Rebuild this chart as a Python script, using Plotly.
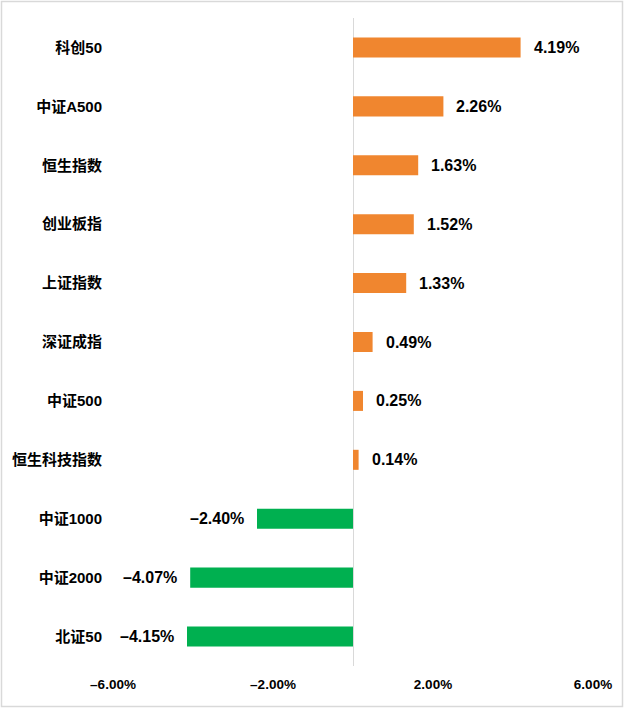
import plotly.graph_objects as go

# index names, top to bottom
names = ['科创50', '中证A500', '恒生指数', '创业板指', '上证指数', '深证成指',
         '中证500', '恒生科技指数', '中证1000', '中证2000', '北证50']
# weekly change, %
changes = [4.19, 2.26, 1.63, 1.52, 1.33, 0.49, 0.25, 0.14, -2.40, -4.07, -4.15]

x_ticks = [-6, -2, 2, 6]
x_tick_text = ['–6.00%', '–2.00%', '2.00%', '6.00%']

colors = ['#F0862F' if v >= 0 else '#00B050' for v in changes]
labels = [('%.2f%%' % v).replace('-', '–') for v in changes]

font = 'Liberation Sans, Arial, Noto Sans CJK SC, sans-serif'

fig = go.Figure(go.Bar(
    x=changes, y=names, orientation='h',
    marker=dict(color=colors, line=dict(width=0)),
    width=0.34,
))

# value labels beside the bars
for n, v, t in zip(names, changes, labels):
    fig.add_annotation(x=v, y=n, text=t, showarrow=False,
                       xanchor='left' if v >= 0 else 'right',
                       xshift=11 if v >= 0 else -11,
                       font=dict(family=font, size=16, color='black', weight='bold'))

W, H = 624, 708
ml, mr, mt, mb = 113, 31, 18, 42

fig.update_layout(
    width=W, height=H,
    margin=dict(l=ml, r=mr, t=mt, b=mb, autoexpand=False),
    paper_bgcolor='white', plot_bgcolor='white',
    showlegend=False,
    xaxis=dict(range=[-6, 6], tickvals=x_ticks, ticktext=x_tick_text,
               showgrid=False, zeroline=True, zerolinecolor='#d9d9d9',
               zerolinewidth=1, showline=False,
               tickfont=dict(family=font, size=13.5, color='black', weight='bold'),
               ticklabelstandoff=8),
    yaxis=dict(autorange='reversed', showgrid=False, showline=False,
               tickfont=dict(family=font, size=15, color='black', weight='bold'),
               ticklabelstandoff=10),
)

# light frame round the whole picture
pw, ph = W - ml - mr, H - mt - mb
fig.add_shape(type='rect', xref='paper', yref='paper',
              x0=(1.5 - ml) / pw, x1=(W - 1.5 - ml) / pw,
              y0=-(mb - 1.5) / ph, y1=1 + (mt - 1.5) / ph,
              line=dict(color='#d9d9d9', width=1.5), layer='below')

fig.write_html('out.html', config={'displayModeBar': False},
               post_script="document.body.style.margin='0';")
